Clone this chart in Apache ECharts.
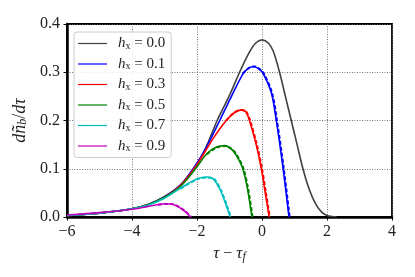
<!DOCTYPE html>
<html>
<head>
<meta charset="utf-8">
<script src="https://cdn.jsdelivr.net/npm/echarts@6/dist/echarts.min.js"></script>
<style>
html,body{margin:0;padding:0;background:#fff;}
#c{width:415px;height:277px;}
</style>
</head>
<body>
<div id="c"></div>
<script>
// Series data: [tau - tau_f, dn_b/dtau]
const h00 = [[-6,0.003],[-5,0.008],[-4,0.017],[-3.5,0.026],[-3,0.042],[-2.5,0.066],[-2,0.110],[-1.7,0.148],[-1.38,0.200],[-1.0,0.252],[-0.69,0.300],[-0.4,0.340],[-0.2,0.360],[0.0,0.367],[0.2,0.360],[0.35,0.343],[0.54,0.300],[0.72,0.250],[0.9,0.200],[1.08,0.150],[1.26,0.100],[1.45,0.058],[1.65,0.027],[1.85,0.009],[2.05,0.002],[2.3,0.0]];
const h01 = [[-6,0.003],[-5,0.008],[-4,0.017],[-3.5,0.026],[-3,0.042],[-2.5,0.067],[-2,0.112],[-1.7,0.146],[-1.3,0.200],[-0.94,0.250],[-0.58,0.297],[-0.4,0.309],[-0.25,0.312],[-0.1,0.307],[0.03,0.298],[0.29,0.257],[0.44,0.200],[0.65,0.100],[0.83,0.0]];
const h03 = [[-6,0.003],[-5,0.008],[-4,0.017],[-3.5,0.026],[-3,0.041],[-2.5,0.066],[-2,0.109],[-1.5,0.163],[-1.1,0.200],[-0.85,0.216],[-0.63,0.222],[-0.5,0.218],[-0.4,0.203],[-0.19,0.153],[-0.02,0.100],[0.1,0.050],[0.22,0.0]];
const h05 = [[-6,0.003],[-5,0.008],[-4,0.017],[-3.5,0.026],[-3,0.041],[-2.5,0.064],[-2,0.104],[-1.7,0.131],[-1.4,0.145],[-1.15,0.148],[-0.9,0.138],[-0.7,0.117],[-0.58,0.098],[-0.45,0.060],[-0.31,0.0]];
const h07 = [[-6,0.003],[-5,0.008],[-4,0.017],[-3.5,0.025],[-3,0.039],[-2.5,0.060],[-2,0.079],[-1.7,0.083],[-1.5,0.079],[-1.3,0.058],[-1.1,0.024],[-0.98,0.0]];
const h09 = [[-6,0.004],[-5,0.009],[-4,0.016],[-3.5,0.022],[-3,0.0275],[-2.8,0.027],[-2.6,0.022],[-2.4,0.013],[-2.2,0.0]];
// dashed companions
const h01d = [[-0.6,0.297],[-0.4,0.309],[-0.23,0.312],[-0.08,0.307],[0.05,0.298],[0.31,0.257],[0.46,0.200],[0.67,0.100],[0.85,0.0]];
const h03d = [[-1.1,0.200],[-0.85,0.217],[-0.62,0.222],[-0.48,0.218],[-0.38,0.203],[-0.17,0.153],[0.0,0.100],[0.12,0.050],[0.24,0.0]];
const h05d = [[-1.7,0.130],[-1.4,0.144],[-1.13,0.147],[-0.88,0.138],[-0.68,0.117],[-0.56,0.098],[-0.43,0.060],[-0.29,0.0]];
const h07d = [[-2.5,0.059],[-2,0.078],[-1.7,0.082],[-1.48,0.079],[-1.28,0.058],[-1.08,0.024],[-0.96,0.0]];
const h09d = [[-3.2,0.025],[-3,0.027],[-2.78,0.027],[-2.58,0.022],[-2.38,0.013],[-2.18,0.0]];

const names = ['0.0','0.1','0.3','0.5','0.7','0.9'];
const colors = ['#404040','#0000ff','#ff0000','#008000','#00bfbf','#bf00bf'];
const solid = [h00,h01,h03,h05,h07,h09];
const dashed = [null,h01d,h03d,h05d,h07d,h09d];
const xTicks = [-6,-4,-2,0,2,4];
const yTicks = [0.0,0.1,0.2,0.3,0.4];

const serif = "'Liberation Serif', 'DejaVu Serif', serif";
const series = [];
solid.forEach((d,i)=>{
  series.push({
    name: names[i], type:'line', data:d, showSymbol:false, smooth:0.3,
    lineStyle:{color:colors[i], width:1.6}, itemStyle:{color:colors[i]}, z:2+i, silent:true, animation:false
  });
});
dashed.forEach((d,i)=>{
  if(!d) return;
  series.push({
    name: names[i]+'d', type:'line', data:d, showSymbol:false, smooth:0.3,
    lineStyle:{color:colors[i], width:2, type:[4,2]}, itemStyle:{color:colors[i]}, z:10+i, silent:true, animation:false
  });
});

const chart = echarts.init(document.getElementById('c'), null, {renderer:'canvas'});
chart.setOption({
  backgroundColor:'#fff',
  animation:false,
  grid:{left:67, right:23, top:24, bottom:60, show:true, borderColor:'#000', borderWidth:1.8, outerBoundsMode:'none'},
  legend:{
    data:names, left:74, top:32, orient:'vertical', itemWidth:29, itemHeight:10, itemGap:5.5,
    backgroundColor:'rgba(255,255,255,0.85)', borderColor:'#cccccc', borderWidth:1, borderRadius:3,
    padding:[4,6,4,4],
    icon:'path://M0,4.4 L29,4.4 L29,5.6 L0,5.6 Z',
    formatter: n => '{i|h}{s|x}{n| = '+n+'}',
    textStyle:{
      fontFamily:serif, fontSize:14, color:'#222', padding:[0,0,0,6],
      rich:{
        i:{fontFamily:serif, fontStyle:'italic', fontSize:15, color:'#222'},
        s:{fontFamily:serif, fontSize:10, color:'#222', padding:[5,0,0,0]},
        n:{fontFamily:serif, fontSize:15, color:'#222'}
      }
    }
  },
  xAxis:{
    type:'value', min:-6, max:4, interval:2,
    name:'{i|τ} {n|−} {i|τ}{s|f}', nameLocation:'middle', nameGap:22,
    nameTextStyle:{fontFamily:serif, fontSize:16, color:'#222',
      rich:{i:{fontFamily:serif,fontStyle:'italic',fontSize:17,color:'#222'}, n:{fontFamily:serif,fontSize:16,color:'#222'}, s:{fontFamily:serif,fontStyle:'italic',fontSize:12,color:'#222',padding:[6,0,0,0]}}},
    axisLine:{show:true, onZero:false, lineStyle:{color:'#000', width:2.5}},
    axisTick:{show:true, length:3.5, lineStyle:{color:'#000', width:1}},
    axisLabel:{fontFamily:serif, fontSize:16, color:'#222', margin:7,
      formatter: v => (v<0 ? '−'+Math.abs(v) : String(v))},
    splitLine:{show:true, lineStyle:{color:'#666', width:0.9, type:[1,1.5]}}
  },
  yAxis:{
    type:'value', min:0, max:0.4, interval:0.1,
    name:'{i|d}{i|ñ}{s|b}{n|/}{i|dτ}', nameLocation:'middle', nameGap:31, nameRotate:90,
    nameTextStyle:{fontFamily:serif, fontSize:16, color:'#222',
      rich:{i:{fontFamily:serif,fontStyle:'italic',fontSize:18,color:'#222'}, n:{fontFamily:serif,fontSize:18,color:'#222'}, s:{fontFamily:serif,fontStyle:'italic',fontSize:12,color:'#222',padding:[6,0,0,0]}}},
    axisLine:{show:true, onZero:false, lineStyle:{color:'#000', width:2.5}},
    axisTick:{show:true, length:3.5, lineStyle:{color:'#000', width:1}},
    axisLabel:{fontFamily:serif, fontSize:16, color:'#222', margin:7,
      formatter: v => v.toFixed(1)},
    splitLine:{show:true, lineStyle:{color:'#666', width:0.9, type:[1,1.5]}}
  },
  series: series
});
</script>
</body>
</html>
